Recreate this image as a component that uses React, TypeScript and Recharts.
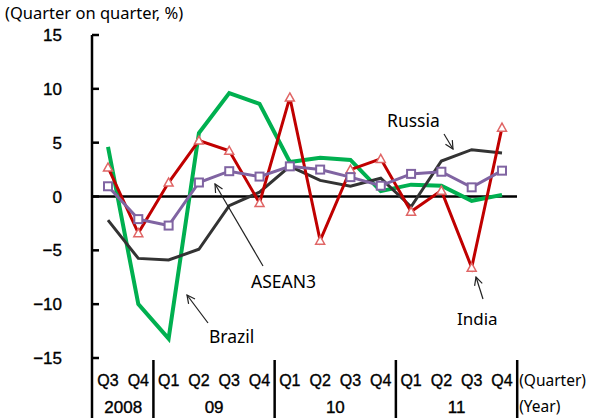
import React from 'react';
import { LineChart, Line, XAxis, YAxis, ReferenceLine } from 'recharts';

const quarters = ['Q3', 'Q4', 'Q1', 'Q2', 'Q3', 'Q4', 'Q1', 'Q2', 'Q3', 'Q4', 'Q1', 'Q2', 'Q3', 'Q4'];
const years = ['2008', '2008', '09', '09', '09', '09', '10', '10', '10', '10', '11', '11', '11', '11'];
// year label is drawn after the quarter at this index (centered between it and the next)
const yearLabelAt: Record<number, string> = { 0: '2008', 3: '09', 7: '10', 11: '11' };

const brazil = [4.6, -10.0, -13.2, 5.9, 9.6, 8.6, 3.2, 3.6, 3.4, 0.5, 1.1, 1.0, -0.4, 0.15];
const russia = [-2.2, -5.75, -5.9, -4.9, -0.85, 0.4, 2.8, 1.5, 0.95, 1.7, -0.95, 3.3, 4.35, 4.05];
const india = [2.7, -3.4, 1.3, 5.2, 4.25, -0.6, 9.2, -4.1, 2.5, 3.5, -1.4, 0.55, -6.6, 6.4];
const asean3 = [0.95, -2.1, -2.7, 1.3, 2.35, 1.85, 2.8, 2.5, 1.8, 1.0, 2.1, 2.3, 0.85, 2.4];

const yTicks = [-15, -10, -5, 0, 5, 10, 15];

const data = quarters.map((q, i) => ({
  period: `${q} ${years[i]}`,
  brazil: brazil[i],
  russia: russia[i],
  india: india[i],
  asean3: asean3[i],
}));

const NUM_FONT = '"Liberation Sans", Arial, sans-serif';
const TXT_FONT = '"Noto Sans", "Open Sans", sans-serif';
const HALF = 15.2;
const TXT_STROKE = { stroke: '#000', strokeWidth: 0.35 };

const YTick = (props: any) => {
  const { x, y, payload } = props;
  const v = payload.value as number;
  const label = v < 0 ? `\u2212${Math.abs(v)}` : `${v}`;
  const axisX = x + 30;
  return (
    <g>
      <line x1={axisX} x2={axisX + 7} y1={y} y2={y} stroke="#000" strokeWidth={2.5} />
      <text x={x} y={y + 6} textAnchor="end" fontFamily={NUM_FONT} fontSize={17} fill="#000" {...TXT_STROKE}>
        {label}
      </text>
    </g>
  );
};

const XTick = (props: any) => {
  const { x, y, index } = props;
  const q = quarters[index];
  const yl = yearLabelAt[index];
  const last = index === quarters.length - 1;
  return (
    <g>
      {index === 0 && <line x1={x - 16} x2={x - 16} y1={y} y2={y + 62} stroke="#000" strokeWidth={2.5} />}
      {q === 'Q1' && <line x1={x - HALF} x2={x - HALF} y1={y + 2} y2={y + 62} stroke="#000" strokeWidth={2.5} />}
      {last && <line x1={x + HALF} x2={x + HALF} y1={y + 2} y2={y + 62} stroke="#000" strokeWidth={2.5} />}
      <text x={x} y={y + 28} textAnchor="middle" fontFamily={NUM_FONT} fontSize={16} fill="#000" {...TXT_STROKE}>
        {q}
      </text>
      {yl && (
        <text x={x + HALF} y={y + 55} textAnchor="middle" fontFamily={NUM_FONT} fontSize={17} fill="#000" {...TXT_STROKE}>
          {yl}
        </text>
      )}
      {last && (
        <g>
          <text x={x + HALF + 2} y={y + 28} fontFamily={TXT_FONT} fontSize={15.5} fill="#000">(Quarter)</text>
          <text x={x + HALF + 2} y={y + 54} fontFamily={TXT_FONT} fontSize={15.5} fill="#000">(Year)</text>
        </g>
      )}
    </g>
  );
};

const TriangleDot = (props: any) => {
  const { cx, cy, index } = props;
  if (cx == null || cy == null) return <g key={`t${index}`} />;
  const s = 4.5;
  return (
    <path
      key={`t${index}`}
      d={`M${cx},${cy - s} L${cx + s},${cy + s * 0.8} L${cx - s},${cy + s * 0.8} Z`}
      fill="#fff"
      stroke="#e06666"
      strokeWidth={1.5}
    />
  );
};

const SquareDot = (props: any) => {
  const { cx, cy, index } = props;
  if (cx == null || cy == null) return <g key={`s${index}`} />;
  const s = 4;
  return (
    <rect key={`s${index}`} x={cx - s} y={cy - s} width={s * 2} height={s * 2} fill="#fff" stroke="#8064a2" strokeWidth={2} />
  );
};

const Arrow = ({ x1, y1, x2, y2 }: { x1: number; y1: number; x2: number; y2: number }) => (
  <line x1={x1} y1={y1} x2={x2} y2={y2} stroke="#222" strokeWidth={1.2} markerEnd="url(#arrowHead)" />
);

export default function App() {
  return (
    <div style={{ position: 'absolute', left: 0, top: 0, width: 604, height: 418, background: '#fff' }}>
      <LineChart width={604} height={418} data={data} margin={{ top: 35, right: 87, bottom: 0, left: 0 }}>
        <XAxis
          dataKey="period"
          type="category"
          interval={0}
          axisLine={false}
          tickLine={false}
          tickSize={0}
          tickMargin={0}
          height={60}
          padding={{ left: 16, right: 15 }}
          tick={<XTick />}
        />
        <YAxis
          domain={[-15, 15]}
          ticks={yTicks}
          interval={0}
          width={92}
          tickSize={0}
          tickMargin={30}
          tickLine={false}
          axisLine={{ stroke: '#000', strokeWidth: 2.5 }}
          tick={<YTick />}
          allowDataOverflow
        />
        <ReferenceLine y={0} stroke="#000" strokeWidth={2.5} />
        <Line dataKey="brazil" stroke="#00b050" strokeWidth={4} dot={false} isAnimationActive={false} />
        <Line dataKey="russia" stroke="#333333" strokeWidth={3} dot={false} isAnimationActive={false} />
        <Line dataKey="india" stroke="#c00000" strokeWidth={3} dot={<TriangleDot />} isAnimationActive={false} />
        <Line dataKey="asean3" stroke="#8064a2" strokeWidth={3} dot={<SquareDot />} isAnimationActive={false} />
      </LineChart>
      <svg
        width={604}
        height={418}
        style={{ position: 'absolute', left: 0, top: 0, pointerEvents: 'none' }}
      >
        <defs>
          <marker id="arrowHead" markerWidth="10" markerHeight="10" refX="9" refY="5" orient="auto" markerUnits="userSpaceOnUse">
            <path d="M1,1 L9,5 L1,9" fill="none" stroke="#222" strokeWidth={1.2} />
          </marker>
        </defs>
        <text x={5} y={19} fontFamily={TXT_FONT} fontSize={16.5} fill="#000">(Quarter on quarter, %)</text>
        <text x={387} y={127} fontFamily={TXT_FONT} fontSize={17.5} fill="#000">Russia</text>
        <Arrow x1={444} y1={134} x2={453} y2={149} />
        <text x={251} y={288} fontFamily={TXT_FONT} fontSize={17.5} fill="#000">ASEAN3</text>
        <Arrow x1={263} y1={266} x2={215} y2={184} />
        <text x={209} y={343} fontFamily={TXT_FONT} fontSize={17.5} fill="#000">Brazil</text>
        <Arrow x1={208} y1={323} x2={187} y2={295} />
        <text x={457} y={325} fontFamily={TXT_FONT} fontSize={17} fill="#000">India</text>
        <Arrow x1={483} y1={299} x2={476} y2={277} />
      </svg>
    </div>
  );
}
